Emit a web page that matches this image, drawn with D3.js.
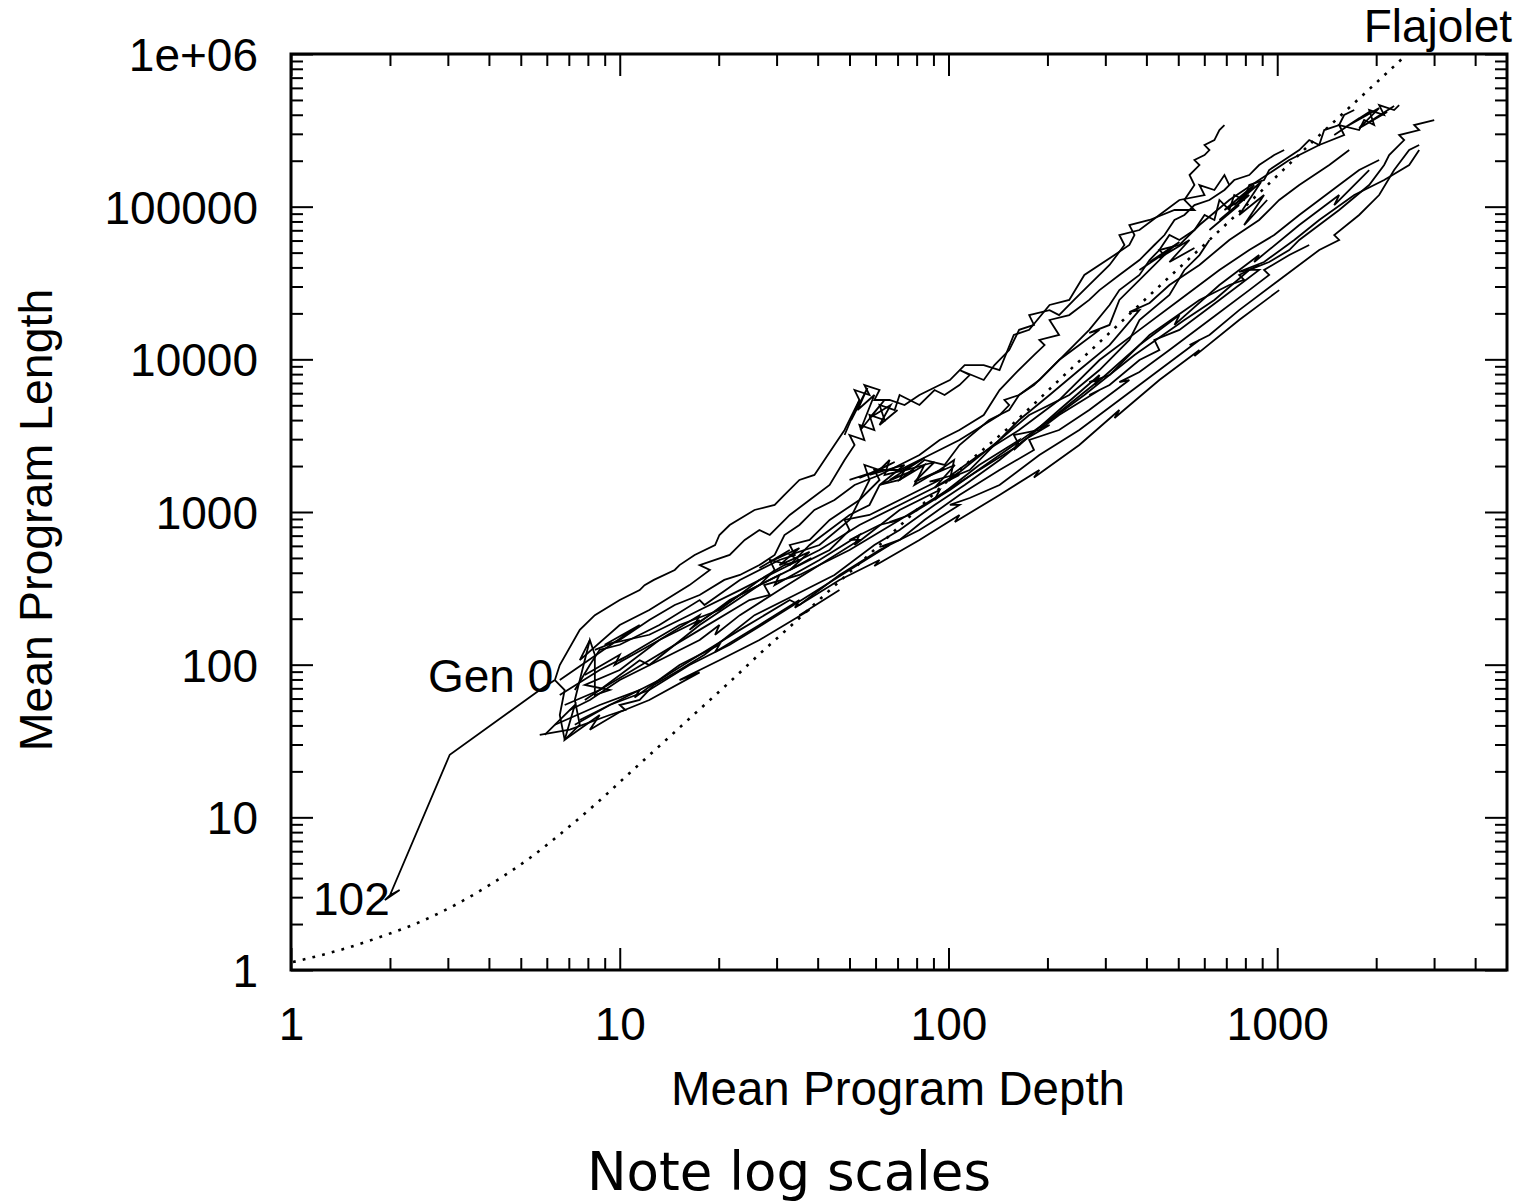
<!DOCTYPE html>
<html>
<head>
<meta charset="utf-8">
<script src="https://cdn.jsdelivr.net/npm/d3@7"></script>
<style>
  body { margin: 0; background: #fff; }
</style>
</head>
<body>
<div id="chart"></div>
<script>
// tick values and labels
const xMajor = [1, 10, 100, 1000];
const xTickLabels = ["1", "10", "100", "1000"];
const xMinor = [2,3,4,5,6,7,8,9,20,30,40,50,60,70,80,90,200,300,400,500,600,700,800,900,2000,3000,4000];
const yMajor = [1, 10, 100, 1000, 10000, 100000, 1000000];
const yTickLabels = ["1", "10", "100", "1000", "10000", "100000", "1e+06"];
const yMinor = [];
[1, 10, 100, 1000, 10000, 100000].forEach(b => [2,3,4,5,6,7,8,9].forEach(m => yMinor.push(b * m)));

// theoretical curve, [depth, length]
const flajolet = [[1.014,1.128],[1.48,1.394],[1.904,1.67],[2.466,2.063],[3.196,2.706],[4.111,3.715],[5.326,5.416],
  [6.708,8.013],[8.514,12.41],[10.72,19.51],[13.51,30.68],[17.14,48.97],[21.6,76.98],[26.64,117.5],[32.86,176.5],
  [42.59,294.7],[56.33,507.3],[77.7,970.3],[108,1884],[153.2,3603],[222,7660],[308.6,14870],[428.8,28880],
  [621.5,60460],[881.8,122900],[1278,265100],[1865,563600],[2467,984700]];

// runs: mean depth, mean length per generation
const runGen0 = [[6.35,79.3],[5.71,68.2],[3.04,25.7],[2.0,3.09],[2.14,3.34],[1.93,2.87],[2.0,3.09]];
const run01 = [[6.35,79.3],[6.57,99.4],[7.56,169],[8.40,211],[10,265],[11.5,308],[11.9,332],[12.7,359],[14.7,417],[15.2,449],[16.9,523],[19.5,608],[20.1,707],[21.6,822],[25.7,1031],[29.6,1112],[31.7,1293],[35.2,1621],[39.1,1748],[45.0,2747],[48.3,3444],[53.6,5414],[51.8,6295],[57.5,5838],[55.5,6788],[61.7,6295],[59.5,5414],[66.2,5414],[73.5,5021],[81.6,5838],[94,6788],[101,7320],[112,9177],[128,9177],[143,8511],[158,14450],[176,15600],[203,22700],[233,24500],[259,35700],[320,48200],[355,56100],[368,65200],[355,75800],[409,81800],[487,95100],[560,95100],[522,110600],[560,138600],[541,161200],[580,187400],[560,202100],[601,217900],[622,235000],[601,253400],[644,273200],[667,317700],[691,342600]];
const run02 = [[7.30,68.2],[8.11,99.4],[8.69,125],[10,135],[13.2,182],[17.5,265],[18.1,246],[23.2,359],[30.6,485],[34.1,523],[32.9,608],[37.8,656],[43.5,887],[53.6,1199],[61.7,1621],[59.5,1884],[71,1884],[87.6,2362],[108,2962],[143,4318],[153,5021],[148,5414],[164,5838],[189,7320],[217,9896],[250,12400],[288,15600],[268,14900],[309,16800],[331,24500],[409,38500],[454,48200],[438,52000],[504,56100],[580,75800],[715,110600],[881,149500],[1088,202100],[1342,253400],[1598,294600],[1543,342600],[1775,317700],[1838,369400],[1972,342600],[1904,429500],[2115,398300],[2042,463000],[2268,429500],[2349,463000]];
const run03 = [[7.83,58.7],[8.69,68.2],[11.5,107],[12.3,99.4],[17.5,182],[26.6,332],[29.6,417],[28.6,485],[32.9,449],[37.8,608],[50,956],[57.5,1112],[61.7,1503],[71,1621],[84.5,2191],[97.3,2032],[108,2747],[133,4005],[153,4656],[164,5838],[182,6788],[217,9896],[241,12400],[268,15600],[309,22700],[331,28400],[381,35700],[409,44700],[438,52000],[470,65200],[504,60500],[560,70300],[601,88200],[644,81800],[667,110600],[715,95100],[740,119200],[793,110600],[822,138600],[912,149500],[945,173800],[1050,202100],[1167,235000],[1251,273200],[1342,253400],[1390,317700],[1543,342600],[1598,398300],[1715,429500]];
const run04 = [[7.05,50.5],[8.11,58.7],[10,79.3],[13.2,107],[17.5,145],[20.1,182],[19.5,157],[23.2,211],[30.6,308],[40.5,449],[53.6,656],[50,656],[61.7,822],[71,887],[94,1293],[124,1884],[164,2747],[158,3194],[189,3444],[217,4318],[288,6295],[268,5838],[309,6788],[381,9896],[438,11500],[423,13400],[504,15600],[667,24500],[881,38500],[822,38500],[945,43400],[1088,52000],[1167,60500],[1543,95100],[1904,138600],[2115,187400],[2190,217900],[2433,273200],[2349,294600],[2703,317700],[2610,342600],[3003,369400]];
const run05 = [[7.56,43.4],[10,58.7],[13.2,79.3],[17.5,116],[23.2,169],[32.9,265],[35.2,246],[46.6,387],[61.7,564],[81.6,762],[108,1112],[101,1112],[116,1235],[143,1503],[189,2362],[250,3444],[331,5414],[438,8511],[580,13400],[541,12400],[622,14450],[766,21000],[1014,33100],[1342,52000],[1543,60500],[1491,65200],[1775,88200],[2042,119200],[2268,173800],[2520,235000],[2703,253400]];
const run06 = [[5.71,34.7],[7.05,37.5],[9.32,46.8],[10.4,50.5],[10,54.4],[11.5,58.7],[12.7,73.6],[15.2,92.2],[18.1,116],[21.6,157],[25.7,211],[34.1,286],[45.0,387],[59.5,608],[71,762],[90.7,1112],[112,1503],[143,2191],[170,2962],[203,3714],[189,3550],[259,5838],[368,10670],[522,18100],[644,24500],[822,38500],[766,37400],[912,43400],[1127,60500],[1342,81800],[1715,119200],[2115,149500],[2520,187400],[2703,235000]];
const run07 = [[6.80,54.4],[8.69,68.2],[12.3,107],[17.5,169],[24.8,265],[28.6,286],[27.5,332],[35.2,387],[50,564],[71,887],[66.2,860],[76.1,956],[101,1394],[143,2362],[203,4005],[288,7320],[268,7090],[309,7893],[409,14450],[580,24500],[715,30700],[793,33100],[766,35700],[881,41500]];
const run08 = [[6.57,63.3],[8.69,92.2],[10.7,116],[10,107],[15.2,182],[20.1,228],[26.6,359],[31.7,449],[35.2,485],[32.9,523],[40.5,608],[50,887],[57.5,1621],[55.5,2032],[61.7,1884],[66.2,2191],[63.9,1748],[73.5,1884],[71,1621],[84.5,2032],[78.8,1503],[94,1884],[104,2191],[101,1621],[120,2191],[143,2962],[176,4318],[233,5838],[288,8511],[355,13400],[381,18100],[470,26400],[522,38500],[580,48200],[622,60500]];
const run09 = [[8.40,125],[10,145],[12.3,196],[14.7,246],[17.5,286],[20.8,359],[23.2,387],[26.6,449],[29.6,523],[31.7,707],[35.2,822],[39.1,1031],[45,1199],[51.8,1503],[61.7,1748],[71,2032],[81.6,2362],[94,2962],[108,3444],[128,4318],[143,6295],[158,7893],[182,10670],[196,12400],[189,13400],[217,14450],[203,18100],[233,19500],[268,24500],[288,28400],[331,35700],[381,44700],[423,56100],[454,65200],[487,81800],[522,88200],[560,102500],[622,110600],[691,128600],[740,149500],[822,161200],[881,187400],[979,217900],[1050,235000]];
const run10 = [[8.11,145],[7.56,107],[10,182],[12.3,228],[16.3,332],[18.8,417],[17.5,449],[21.6,523],[24.0,656],[26.6,762],[28.6,707],[32.9,956],[37.8,1199],[43.5,1503],[48.3,2191],[51.8,2747],[50,3194],[55.5,2962],[53.6,3714],[59.5,3444],[57.5,4318],[63.9,4005],[61.7,5021],[68.6,4656],[71,5838],[81.6,5021],[90.7,6295],[97.3,5838],[108,6788],[116,7893],[108,8511],[128,7320],[138,9177],[153,11500],[164,15600],[182,16800],[176,19500],[203,21000],[217,19500],[241,24500],[268,30700],[309,41500],[343,56100],[331,65200],[381,70300],[438,88200],[504,110600],[601,119200],[580,138600],[644,128600],[691,161200],[715,138600]];
const run11 = [[7.30,40.4],[9.32,54.4],[12.3,68.2],[16.3,99.4],[21.6,135],[28.6,196],[37.8,286],[50,417],[66.2,608],[61.7,590],[71,656],[84.5,887],[108,1293],[143,1884],[182,2547],[176,2962],[217,3444],[268,4656],[355,7320],[331,7090],[381,8260],[470,11500],[622,18100],[822,28400],[945,35700],[912,38500],[1088,48200],[1251,56100]];
const run12 = [[6.35,79.3],[6.80,68.2],[6.57,46.8],[6.80,32.2],[7.56,40.4],[7.30,58.7],[8.11,145],[8.40,116],[8.40,63.3],[9.32,68.2],[7.83,73.6],[10,92.2],[13.2,145],[17.5,196],[16.3,169],[21.6,265],[28.6,359],[35.2,449],[43.5,564],[50,762],[48.3,887],[57.5,956],[71,1199],[94,1621],[87.6,1580],[101,1720],[124,2362],[164,3444],[217,5414],[288,9896],[381,15600],[504,24500],[667,38500],[822,52000],[979,65200],[1167,88200],[1342,110600],[1543,138600],[1775,173800],[2042,202100]];
const run13 = [[6.57,79.3],[11.5,182],[9.0,135],[12.3,157],[15.2,196],[17.5,228],[23.2,308],[30.6,417],[40.5,564],[53.6,822],[71,1112],[87.6,1394],[108,1748],[101,1670],[116,1884],[133,2547],[164,4005],[203,5838],[250,8511],[309,12400],[381,21000],[355,20400],[409,23400],[470,30700],[580,41500],[715,60500],[881,81800],[1014,110600],[1167,138600],[1440,187400],[1656,235000]];
const run14 = [[5.91,34.7],[7.30,54.4],[6.80,32.2],[8.69,46.8],[8.11,37.5],[10,49],[12.3,58.7],[17.5,89],[15.2,79.3],[20.1,107],[26.6,145],[37.8,228],[35.2,211],[46.6,308]];
const run15 = [[7.83,85.5],[10,116],[9.65,99.4],[13.2,145],[17.5,211],[16.9,182],[23.2,286],[30.6,387],[29.6,332],[40.5,485],[53.6,707],[51.8,608],[71,1031],[94,1394],[90.7,1199],[124,2032],[164,2962],[158,2547],[217,4656],[288,7893],[278,6788],[381,12400],[504,19500],[487,16800],[667,30700],[881,48200],[851,43400],[1167,75800],[1543,119200],[1491,102500],[1904,173800]];
const run16 = [[6.35,40.4],[8.69,54.4],[11.5,68.2],[11.1,61],[15.2,99.4],[20.1,135],[19.5,121],[26.6,182],[35.2,265],[34.1,236],[46.6,359],[61.7,485],[59.5,443],[81.6,656],[108,956],[104.6,860],[143,1293],[189,1884],[182,1680],[250,2747],[331,4656],[320,4130],[438,7320],[580,11500],[560,10500],[766,18100],[1014,28400]];
// dense back-and-forth stretches where runs stall
const stallA = [[50,1621],[61.7,1884],[53.6,1670],[68.6,2126],[57.5,1748],[73.5,2032],[61.7,1503],[78.8,1884],[66.2,1621],[84.5,2257],[71,1830],[90.7,2126],[78.8,1575],[97.3,1935],[84.5,1670],[104.6,2032],[90.7,1440],[108,1830]];
const stallB = [[622,70300],[766,102500],[667,81800],[822,119200],[691,95100],[851,138600],[740,102500],[893,145000],[766,88200],[912,119200],[793,75800],[932,110600]];
const stallC = [[1491,294600],[1775,380000],[1598,327000],[1904,417000],[1656,342600],[2042,442000],[1775,327000],[2160,417000],[1904,358000],[2268,456000]];
const stallD = [[48.3,3194],[53.6,5414],[50.6,4005],[56.7,6490],[52.9,4656],[59.5,5838],[54,3444],[63.9,5414],[57.5,4130],[66.7,5021],[61.7,3714],[70,4656]];
const stallE = [[26.6,430],[32.9,564],[28.6,470],[35.2,580],[30.6,449],[37.8,548],[32.9,417],[38.3,500]];
const stallF = [[381,38500],[470,52000],[409,43400],[504,58700],[438,46100],[541,60500],[470,43400],[560,53600]];

const runs = [runGen0, run01, run02, run03, run04, run05, run06, run07, run08, run09, run10, run11, run12, run13, run14,
  run15, run16, stallA, stallB, stallC, stallD, stallE, stallF];

const width = 1522, height = 1201;
const plotLeft = 291, plotRight = 1507, plotTop = 54, plotBottom = 970;
const font = "'Liberation Sans', Arial, Helvetica, sans-serif";

const svg = d3.select("#chart").append("svg")
  .attr("width", width)
  .attr("height", height);

svg.append("defs").append("clipPath").attr("id", "clip")
  .append("rect")
  .attr("x", plotLeft).attr("y", plotTop)
  .attr("width", plotRight - plotLeft).attr("height", plotBottom - plotTop);

const x = d3.scaleLog().domain([1, 5000]).range([plotLeft, plotRight]);
const y = d3.scaleLog().domain([1, 1e6]).range([plotBottom, plotTop]);

function styleAxis(g) {
  g.select(".domain").remove();
  g.selectAll(".tick line").attr("stroke", "#000").attr("stroke-width", 2);
  g.selectAll(".tick text")
    .attr("font-family", font)
    .attr("font-size", 46)
    .attr("fill", "#000");
}

// bottom axis, ticks pointing inward
svg.append("g").attr("transform", `translate(0,${plotBottom})`)
  .call(d3.axisBottom(x).tickValues(xMajor).tickSize(-22).tickPadding(37).tickFormat((d, i) => xTickLabels[i]))
  .call(styleAxis);
svg.append("g").attr("transform", `translate(0,${plotBottom})`)
  .call(d3.axisBottom(x).tickValues(xMinor).tickSize(-12).tickFormat(""))
  .call(styleAxis);
// top axis (mirror)
svg.append("g").attr("transform", `translate(0,${plotTop})`)
  .call(d3.axisTop(x).tickValues(xMajor).tickSize(-22).tickFormat(""))
  .call(styleAxis);
svg.append("g").attr("transform", `translate(0,${plotTop})`)
  .call(d3.axisTop(x).tickValues(xMinor).tickSize(-12).tickFormat(""))
  .call(styleAxis);

// left axis
svg.append("g").attr("transform", `translate(${plotLeft},0)`)
  .call(d3.axisLeft(y).tickValues(yMajor).tickSize(-22).tickPadding(33).tickFormat((d, i) => yTickLabels[i]))
  .call(styleAxis)
  .selectAll(".tick text").attr("dy", "0.36em");
svg.append("g").attr("transform", `translate(${plotLeft},0)`)
  .call(d3.axisLeft(y).tickValues(yMinor).tickSize(-12).tickFormat(""))
  .call(styleAxis);
// right axis (mirror)
svg.append("g").attr("transform", `translate(${plotRight},0)`)
  .call(d3.axisRight(y).tickValues(yMajor).tickSize(-22).tickFormat(""))
  .call(styleAxis);
svg.append("g").attr("transform", `translate(${plotRight},0)`)
  .call(d3.axisRight(y).tickValues(yMinor).tickSize(-12).tickFormat(""))
  .call(styleAxis);

const line = d3.line()
  .x(d => x(d[0]))
  .y(d => y(d[1]));

const plot = svg.append("g").attr("clip-path", "url(#clip)");

// Flajolet limit, dotted
plot.append("path")
  .datum(flajolet)
  .attr("d", d3.line().x(d => x(d[0])).y(d => y(d[1])).curve(d3.curveMonotoneX))
  .attr("fill", "none")
  .attr("stroke", "#000")
  .attr("stroke-width", 2.6)
  .attr("stroke-dasharray", "2.8,7.2");

// runs
plot.selectAll(".run")
  .data(runs)
  .enter().append("path")
  .attr("class", "run")
  .attr("d", line)
  .attr("fill", "none")
  .attr("stroke", "#000")
  .attr("stroke-width", 1.8)
  .attr("stroke-linejoin", "miter");

// frame
svg.append("rect")
  .attr("x", plotLeft).attr("y", plotTop)
  .attr("width", plotRight - plotLeft).attr("height", plotBottom - plotTop)
  .attr("fill", "none")
  .attr("stroke", "#000")
  .attr("stroke-width", 3);

// annotations
function label(txt, xp, yp, anchor, size, fam) {
  return svg.append("text")
    .attr("x", xp).attr("y", yp)
    .attr("text-anchor", anchor)
    .attr("font-family", fam || font)
    .attr("font-size", size)
    .attr("fill", "#000")
    .text(txt);
}
label("Gen 0", 428, 692, "start", 46);
label("102", 313, 915, "start", 46);
label("Flajolet", 1512, 42, "end", 46);
label("Mean Program Depth", 898, 1105, "middle", 47.5);
label("Note log scales", 789, 1190, "middle", 53, "'DejaVu Sans', Verdana, sans-serif");

svg.append("text")
  .attr("transform", "translate(52,520) rotate(-90)")
  .attr("text-anchor", "middle")
  .attr("font-family", font)
  .attr("font-size", 46.5)
  .attr("fill", "#000")
  .text("Mean Program Length");
</script>
</body>
</html>
